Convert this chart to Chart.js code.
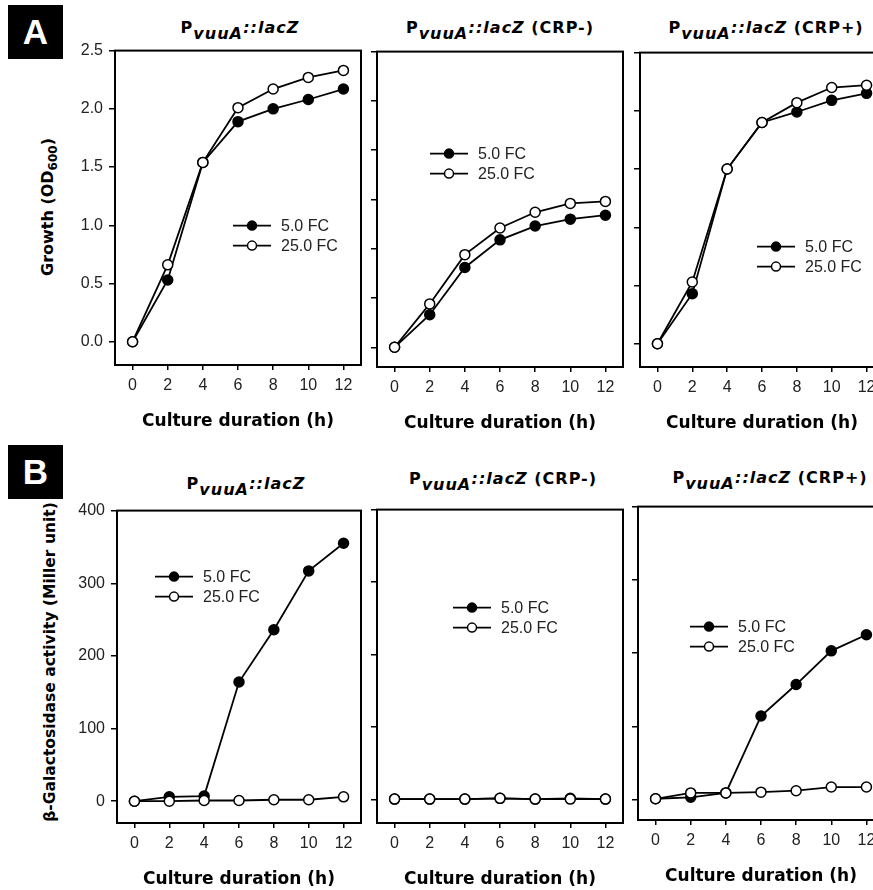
<!DOCTYPE html>
<html>
<head>
<meta charset="utf-8">
<script src="https://cdn.jsdelivr.net/npm/chart.js@4.4.1/dist/chart.umd.min.js"></script>
<style>
  html, body { margin: 0; padding: 0; background: #fff; }
  body { width: 873px; height: 890px; position: relative; overflow: hidden; }
  canvas { position: absolute; }
  .tag { position: absolute; width: 55px; height: 54px; background: #000; color: #fff;
         font: bold 35px "Liberation Sans", Arial, sans-serif; line-height: 54px; text-align: center; }
  .ttl { position: absolute; width: 300px; text-align: center; white-space: nowrap;
         font: bold 16px "DejaVu Sans", sans-serif; line-height: 20px; letter-spacing: 1px; color: #000; }
  .ttl i { font-style: italic; }
  .ttl .sb { position: relative; top: 6px; font-style: italic; }
  .ytl { position: absolute; white-space: nowrap; color: #000; line-height: 20px;
         font: bold 16px "DejaVu Sans", sans-serif; transform: translate(-50%, -50%) rotate(-90deg); }
  .ytl .sb { font-size: 12px; position: relative; top: 4px; }
</style>
</head>
<body>

<div class="tag" style="left:8px;top:5px">A</div>
<div class="tag" style="left:8px;top:445px">B</div>

<div class="ttl" style="left:90px;top:18px">P<span class="sb">vuuA</span><i>::lacZ</i></div>
<div class="ttl" style="left:350px;top:18px">P<span class="sb">vuuA</span><i>::lacZ</i> (CRP-)</div>
<div class="ttl" style="left:616px;top:18px">P<span class="sb">vuuA</span><i>::lacZ</i> (CRP+)</div>
<div class="ttl" style="left:96px;top:474px">P<span class="sb">vuuA</span><i>::lacZ</i></div>
<div class="ttl" style="left:353px;top:469px">P<span class="sb">vuuA</span><i>::lacZ</i> (CRP-)</div>
<div class="ttl" style="left:620px;top:468px">P<span class="sb">vuuA</span><i>::lacZ</i> (CRP+)</div>

<div class="ytl" style="left:47px;top:207px">Growth (OD<span class="sb">600</span>)</div>
<div class="ytl" style="left:50px;top:662px;font-size:15.5px">β-Galactosidase activity (Miller unit)</div>

<script>
// sampling times (h) and tick labels
const hours = [0, 2, 4, 6, 8, 10, 12];
const xTicks = [0, 2, 4, 6, 8, 10, 12];
const seriesNames = ['5.0 FC', '25.0 FC'];
const growthTicks = [0, 0.5, 1.0, 1.5, 2.0, 2.5];
const growthTicksCrpMinus = [0, 0.5, 1.0, 1.5, 2.0, 2.5, 3.0];
const activityTicks = [0, 100, 200, 300, 400];

// A: growth (OD600)
const growthWt5 = [0, 0.53, 1.54, 1.89, 2.00, 2.08, 2.17];
const growthWt25 = [0, 0.66, 1.54, 2.01, 2.17, 2.27, 2.33];
const growthCrpMinus5 = [0, 0.33, 0.81, 1.09, 1.23, 1.30, 1.34];
const growthCrpMinus25 = [0, 0.44, 0.94, 1.21, 1.37, 1.46, 1.48];
const growthCrpPlus5 = [0, 0.43, 1.50, 1.90, 1.99, 2.09, 2.15];
const growthCrpPlus25 = [0, 0.53, 1.50, 1.90, 2.07, 2.20, 2.22];

// B: beta-galactosidase activity (Miller unit)
const actWt5 = [0, 6, 7, 164, 236, 317, 355];
const actWt25 = [0, 0, 1, 1, 2, 2, 6];
const actCrpMinus5 = [1, 1, 1, 2, 1, 2, 1];
const actCrpMinus25 = [1, 1, 1, 2, 1, 1, 1];
const actCrpPlus5 = [1, 3, 9, 114, 157, 203, 225];
const actCrpPlus25 = [1, 9, 9, 10, 12, 17, 17];

// draws the black box round the plot area
const frame = {
  id: 'frame',
  beforeDatasetsDraw(chart) {
    const {ctx, chartArea: a} = chart;
    ctx.save();
    ctx.strokeStyle = '#000';
    ctx.lineWidth = 2;
    ctx.strokeRect(a.left, a.top, a.right - a.left, a.bottom - a.top);
    ctx.restore();
  }
};

// legend drawn inside the plot, line + marker + label
const insideLegend = {
  id: 'insideLegend',
  afterDatasetsDraw(chart, args, o) {
    const {ctx, chartArea: a} = chart;
    ctx.save();
    chart.data.datasets.forEach((ds, i) => {
      const x = a.left + o.x, y = a.top + o.y + i * 20;
      ctx.strokeStyle = '#000';
      ctx.lineWidth = 1.8;
      ctx.beginPath(); ctx.moveTo(x, y); ctx.lineTo(x + 38, y); ctx.stroke();
      ctx.lineWidth = 1.5;
      ctx.beginPath(); ctx.arc(x + 19, y, 4.5, 0, Math.PI * 2);
      ctx.fillStyle = ds.pointBackgroundColor; ctx.fill(); ctx.stroke();
      ctx.fillStyle = '#222';
      ctx.font = '16px "Liberation Sans", Arial, sans-serif';
      ctx.textBaseline = 'middle';
      ctx.textAlign = 'left';
      ctx.fillText(ds.label, x + 48, y + 1);
    });
    ctx.restore();
  }
};

function series(label, vals, fill, order) {
  return {
    label: label,
    data: hours.map((h, i) => ({x: h, y: vals[i]})),
    borderColor: '#000',
    borderWidth: 1.8,
    pointRadius: 5,
    pointBorderWidth: 1.5,
    pointBorderColor: '#000',
    pointBackgroundColor: fill,
    tension: 0,
    clip: false,
    order: order
  };
}

const panels = [
  {box: [115, 47, 361, 365], ymin: -0.2, ymax: 2.5, yt: growthTicks, labels: true, dec: 1,
   s5: growthWt5, s25: growthWt25, leg: [118, 175]},
  {box: [377, 48, 623, 367], ymin: -0.2, ymax: 3.0, yt: growthTicksCrpMinus, labels: false, dec: 1,
   s5: growthCrpMinus5, s25: growthCrpMinus25, leg: [53, 102]},
  {box: [640, 49, 884, 367], ymin: -0.2, ymax: 2.5, yt: growthTicks, labels: false, dec: 1,
   s5: growthCrpPlus5, s25: growthCrpPlus25, leg: [117, 194]},
  {box: [117, 507, 361, 823], ymin: -30, ymax: 400, yt: activityTicks, labels: true, dec: 0,
   s5: actWt5, s25: actWt25, leg: [38, 66]},
  {box: [377, 506, 623, 823], ymin: -32, ymax: 400, yt: activityTicks, labels: false, dec: 0,
   s5: actCrpMinus5, s25: actCrpMinus25, leg: [76, 98]},
  {box: [638, 503, 884, 820], ymin: -28, ymax: 400, yt: activityTicks, labels: false, dec: 0,
   s5: actCrpPlus5, s25: actCrpPlus25, leg: [52, 120]}
];

const tickFont = {family: '"Liberation Sans", Arial, sans-serif', size: 16};

function makePanel(p) {
  const c = document.createElement('canvas');
  const w = p.box[2] - p.box[0] + 82;
  const h = p.box[3] - p.box[1] + 87;
  c.width = w; c.height = h;
  c.style.width = w + 'px'; c.style.height = h + 'px';
  c.style.left = (p.box[0] - 70) + 'px';
  c.style.top = (p.box[1] - 12) + 'px';
  document.body.appendChild(c);

  new Chart(c, {
    type: 'line',
    data: {
      datasets: [
        series(seriesNames[0], p.s5, '#000', 2),
        series(seriesNames[1], p.s25, '#fff', 1)
      ]
    },
    options: {
      responsive: false,
      animation: false,
      devicePixelRatio: 1,
      layout: {padding: {left: 0, top: 12, right: 12, bottom: 0}},
      plugins: {
        legend: {display: false},
        tooltip: {enabled: false},
        insideLegend: {x: p.leg[0], y: p.leg[1]}
      },
      scales: {
        x: {
          type: 'linear', min: -1, max: 13,
          afterBuildTicks: ax => { ax.ticks = xTicks.map(v => ({value: v})); },
          afterFit: ax => { ax.height = 75; },
          border: {display: false},
          grid: {display: true, drawOnChartArea: false, drawTicks: true, tickLength: 5, color: '#000', lineWidth: 1.5},
          ticks: {padding: 6, font: tickFont, color: '#222', maxRotation: 0, autoSkip: false,
                  callback: v => String(v)},
          title: {display: true, text: 'Culture duration (h)', color: '#000',
                  font: {family: '"DejaVu Sans", sans-serif', weight: 'bold', size: 17},
                  padding: {top: 0, bottom: 8}}
        },
        y: {
          type: 'linear', min: p.ymin, max: p.ymax,
          afterBuildTicks: ax => { ax.ticks = p.yt.map(v => ({value: v})); },
          afterFit: ax => { ax.width = 70; },
          border: {display: false},
          grid: {display: true, drawOnChartArea: false, drawTicks: true, tickLength: 6, color: '#000', lineWidth: 1.5},
          ticks: {padding: 6, font: tickFont, color: '#222', autoSkip: false,
                  callback: v => p.labels ? v.toFixed(p.dec) : ''}
        }
      }
    },
    plugins: [frame, insideLegend]
  });
}

panels.forEach(makePanel);
</script>
</body>
</html>
